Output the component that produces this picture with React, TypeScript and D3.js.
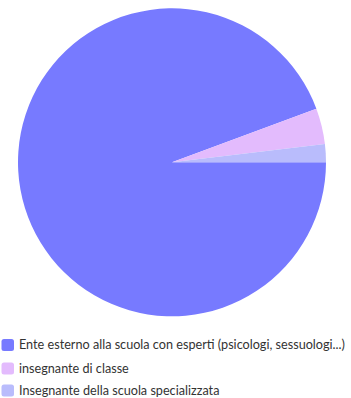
import React, { useRef, useEffect } from "react";
import * as d3 from "d3";

const categories = [
  "Ente esterno alla scuola con esperti (psicologi, sessuologi...)",
  "insegnante di classe",
  "Insegnante della scuola specializzata",
];
const values = [50, 2, 1];
const colors = ["#777aff", "#e3bbfd", "#b9bcfc"];

const W = 351;
const H = 398;

export default function App() {
  const ref = useRef<SVGSVGElement>(null);
  useEffect(() => {
    const svg = d3.select(ref.current);
    svg.selectAll("*").remove();
    const cx = 172, cy = 162.3, r = 154;
    const pie = d3
      .pie<number>()
      .sort(null)
      .startAngle(Math.PI / 2)
      .endAngle(Math.PI / 2 + 2 * Math.PI);
    const arc = d3.arc<d3.PieArcDatum<number>>().innerRadius(0).outerRadius(r);
    const g = svg.append("g").attr("transform", `translate(${cx},${cy})`);
    g.selectAll("path")
      .data(pie(values))
      .join("path")
      .attr("d", arc)
      .attr("fill", (_, i) => colors[i]);

    const legendY = [345, 368.5, 390.5];
    const lg = svg.append("g");
    categories.forEach((c, i) => {
      lg.append("rect")
        .attr("x", 1.5)
        .attr("y", legendY[i] - 6)
        .attr("width", 12.5)
        .attr("height", 12)
        .attr("rx", 2.5)
        .attr("fill", colors[i]);
      lg.append("text")
        .attr("x", 19)
        .attr("y", legendY[i])
        .attr("dy", "0.35em")
        .attr("font-family", "Lato, sans-serif")
        .attr("font-size", 12.65)
        .attr("fill", "#333")
        .text(c);
    });
  }, []);
  return (
    <svg
      ref={ref}
      width={W}
      height={H}
      style={{ position: "absolute", left: 0, top: 0 }}
    />
  );
}
